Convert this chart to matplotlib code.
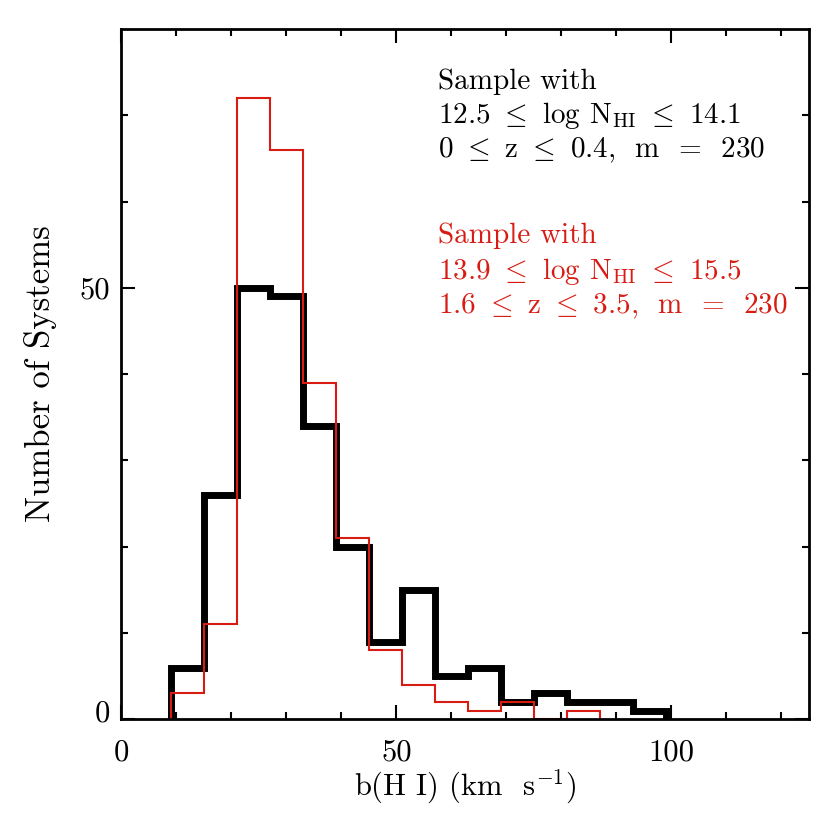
import numpy as np
import matplotlib
matplotlib.use("Agg")
import matplotlib.pyplot as plt
import matplotlib.transforms as mtransforms

# ---- data ----
bin_edges_low_z = [9, 15, 21, 27, 33, 39, 45, 51, 57, 63, 69, 75, 81, 87, 93, 99]
counts_low_z = [6, 26, 50, 49, 34, 20, 9, 15, 5, 6, 2, 3, 2, 2, 1]

bin_edges_high_z = [9, 15, 21, 27, 33, 39, 45, 51, 57, 63, 69, 75, 81, 87]
counts_high_z = [3, 11, 72, 66, 39, 21, 8, 4, 2, 1, 2, 0, 1]

x_ticks = [0, 50, 100]
x_tick_labels = ["0", "50", "100"]
y_ticks = [0, 50]
y_tick_labels = ["0", "50"]

label_low = ["Sample with",
             r"12.5 $\leq$ log N$_{\rm HI}$ $\leq$ 14.1",
             r"0 $\leq$ z $\leq$ 0.4,  m  =  230"]
label_high = ["Sample with",
              r"13.9 $\leq$ log N$_{\rm HI}$ $\leq$ 15.5",
              r"1.6 $\leq$ z $\leq$ 3.5,  m  =  230"]

RED = "#d81c14"

plt.rcParams["font.family"] = "serif"
plt.rcParams["font.serif"] = ["cmr10"]
plt.rcParams["mathtext.fontset"] = "cm"
plt.rcParams["axes.formatter.use_mathtext"] = True
plt.rcParams["axes.unicode_minus"] = False

fig = plt.figure(figsize=(8.3, 8.3), dpi=100)
ax = fig.add_axes([0.1463, 0.1334, 0.8284, 0.8317])

ax.stairs(counts_low_z, bin_edges_low_z, baseline=0, color="black",
          linewidth=5.0, joinstyle="miter")
ax.stairs(counts_high_z, bin_edges_high_z, baseline=0, color=RED,
          linewidth=1.5, joinstyle="miter")

ax.set_xlim(0, 125)
ax.set_ylim(0, 80)

ax.set_xticks(x_ticks)
ax.set_xticklabels(x_tick_labels)
ax.set_xticks(np.arange(0, 125, 10), minor=True)
ax.set_yticks(y_ticks)
ax.set_yticklabels(y_tick_labels)
ax.set_yticks(np.arange(0, 80, 10), minor=True)

ax.tick_params(which="both", direction="in", top=True, right=True, width=1.5)
ax.tick_params(which="major", length=10)
ax.tick_params(which="minor", length=5)
ax.tick_params(axis="x", which="major", labelsize=22, pad=14)
ax.tick_params(axis="y", which="major", labelsize=22, pad=8)
for sp in ax.spines.values():
    sp.set_linewidth(2.0)

# raise the "0" y label slightly, as in the reference
lab0 = ax.yaxis.get_major_ticks()[0].label1
lab0.set_transform(lab0.get_transform() +
                   mtransforms.ScaledTranslation(0, 6 / 72, fig.dpi_scale_trans))

ax.set_xlabel(r"b(H I) (km  s$^{-1}$)", fontsize=22, va="center")
ax.xaxis.set_label_coords(0.5, -0.098)
ax.set_ylabel("Number of Systems", fontsize=25, va="center")
ax.yaxis.set_label_coords(-0.117, 0.5)

low_y = [73.1, 69.05, 65.1]
high_y = [55.15, 51.0, 47.05]
for s, y in zip(label_low, low_y):
    ax.text(57.6, y, s, color="black", fontsize=21, va="baseline", ha="left")
for s, y in zip(label_high, high_y):
    ax.text(57.6, y, s, color=RED, fontsize=21, va="baseline", ha="left")

fig.savefig("out.png", dpi=100)
